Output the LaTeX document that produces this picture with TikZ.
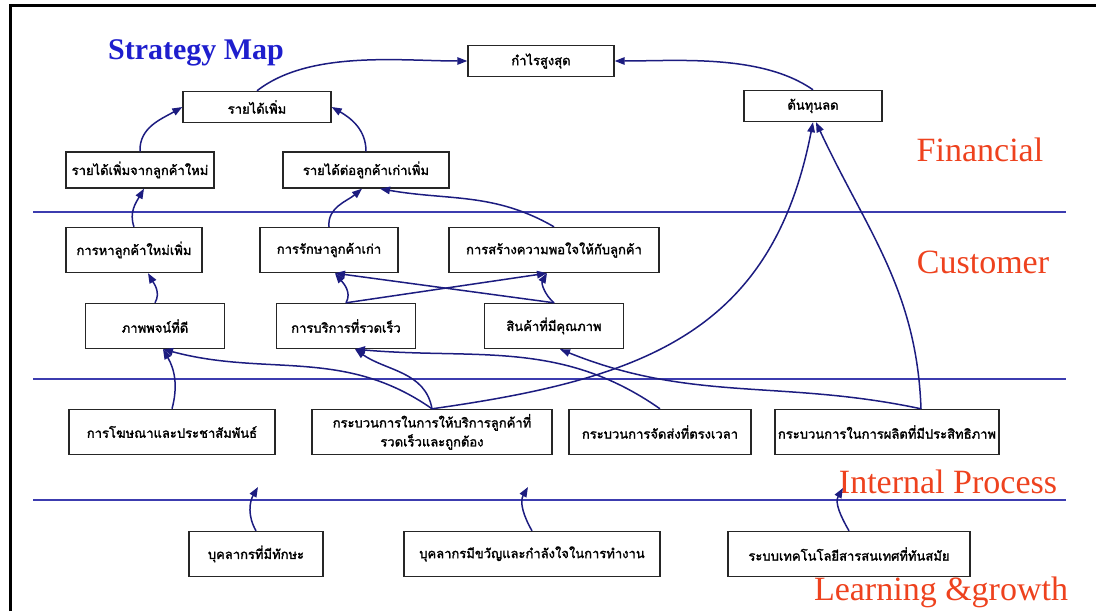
\documentclass[tikz,border=0pt]{standalone}
\usepackage{fontspec}
\setmainfont{Liberation Serif}
\newfontfamily\thaifont[Script=Thai,AutoFakeBold=1.8]{Loma}
\usetikzlibrary{topaths}
\usetikzlibrary{arrows.meta}
\definecolor{linknavy}{RGB}{28,28,128}
\definecolor{laneblue}{RGB}{60,60,175}
\definecolor{perspred}{RGB}{238,66,30}
\definecolor{titleblue}{RGB}{30,30,205}
\tikzstyle{kpi}=[rectangle,draw=black!85,fill=white,line width=1.4pt,inner sep=0pt,minimum height=45pt,align=center,font=\thaifont\bfseries\fontsize{13}{17}\selectfont]
\tikzstyle{fin}=[kpi,minimum height=31pt]
\tikzstyle{link}=[->,>={Triangle[length=10pt,width=7.5pt]},draw=linknavy,line width=1.5pt]
\tikzstyle{lane}=[draw=laneblue,line width=1.1pt]
\tikzstyle{persp}=[text=perspred,font=\fontsize{34}{38}\selectfont]
\tikzset{every picture/.style={x=1pt,y=1pt}}

\begin{document}
\begin{tikzpicture}
  \useasboundingbox (0,0) rectangle (1096,611);
  \draw[line width=3pt] (10,0) -- (10,605) -- (1096,605);
  \node[text=titleblue,font=\bfseries\fontsize{30}{32}\selectfont] at (196,558) (title) {Strategy Map};
  % financial
  \node[fin,minimum width=146pt] at (541,550) (profit) {กำไรสูงสุด};
  \node[fin,minimum width=148pt] at (257,504) (revenue) {รายได้เพิ่ม};
  \node[fin,minimum width=138pt] at (813,505) (cost) {ต้นทุนลด};
  \node[fin,minimum width=148pt,minimum height=36pt] at (140,441) (newrev) {รายได้เพิ่มจากลูกค้าใหม่};
  \node[fin,minimum width=166pt,minimum height=36pt] at (366,441) (oldrev) {รายได้ต่อลูกค้าเก่าเพิ่ม};
  \node[persp] at (980,461) (financial) {Financial};
  \draw[lane] (33,399) -- (1066,399);
  % customer
  \node[kpi,minimum width=136pt] at (134,361) (newcust) {การหาลูกค้าใหม่เพิ่ม};
  \node[kpi,minimum width=138pt] at (329,361) (retain) {การรักษาลูกค้าเก่า};
  \node[kpi,minimum width=210pt] at (554,361) (satisfy) {การสร้างความพอใจให้กับลูกค้า};
  \node[kpi,minimum width=139pt] at (155,285) (image) {ภาพพจน์ที่ดี};
  \node[kpi,minimum width=139pt] at (346,285) (service) {การบริการที่รวดเร็ว};
  \node[kpi,minimum width=139pt] at (554,285) (quality) {สินค้าที่มีคุณภาพ};
  \node[persp] at (983,349) (customer) {Customer};
  \draw[lane] (33,232) -- (1066,232);
  % internal process
  \node[kpi,minimum width=206pt] at (172,179) (advert) {การโฆษณาและประชาสัมพันธ์};
  \node[kpi,minimum width=240pt,font=\thaifont\bfseries\fontsize{13}{19}\selectfont] at (432,179) (svcproc) {กระบวนการในการให้บริการลูกค้าที่\\รวดเร็วและถูกต้อง};
  \node[kpi,minimum width=182pt] at (660,179) (delivery) {กระบวนการจัดส่งที่ตรงเวลา};
  \node[kpi,minimum width=224pt] at (887,179) (production) {กระบวนการในการผลิตที่มีประสิทธิภาพ};
  \node[persp] at (948,129) (internal) {Internal Process};
  \draw[lane] (33,111) -- (1066,111);
  % learning and growth
  \node[kpi,minimum width=134pt] at (256,57) (skilled) {บุคลากรที่มีทักษะ};
  \node[kpi,minimum width=256pt] at (532,57) (morale) {บุคลากรมีขวัญและกำลังใจในการทำงาน};
  \node[kpi,minimum width=242pt] at (849,57) (tech) {ระบบเทคโนโลยีสารสนเทศที่ทันสมัย};
  \node[persp] at (941,19) (learning) {Learning \&growth};
  \coordinate (skilltip) at (258,124);
  \coordinate (moraletip) at (528,124);
  \coordinate (techtip) at (843,123);
  % links
  \draw[link] (revenue.north) to[out=38,in=180,looseness=0.8] (profit.west);
  \draw[link] (cost.north) to[out=145,in=0,looseness=0.8] (profit.east);
  \draw[link] (newrev.north) to[out=92,in=-150] (revenue.west);
  \draw[link] (oldrev.north) to[out=90,in=-30] (revenue.east);
  \draw[link] (newcust.north) to[out=110,in=-120] ([xshift=4pt]newrev.south);
  \draw[link] (retain.north) to[out=95,in=-140] ([xshift=-4pt]oldrev.south);
  \draw[link] (satisfy.north) to[out=150,in=-10] ([xshift=14pt]oldrev.south);
  \draw[link] (image.north) to[out=60,in=-60] ([xshift=14pt]newcust.south);
  \draw[link] (service.north) to[out=60,in=-50] ([xshift=6pt]retain.south);
  \draw[link] (quality.north) -- ([xshift=6pt]retain.south);
  \draw[link] (service.north) -- ([xshift=-7pt]satisfy.south);
  \draw[link] (quality.north) to[out=140,in=-120] ([xshift=-7pt]satisfy.south);
  \draw[link] (advert.north) to[out=75,in=-60] ([xshift=8pt]image.south);
  \draw[link] (svcproc.north) to[out=145,in=-15] ([xshift=8pt]image.south);
  \draw[link] (svcproc.north) to[out=100,in=-35] ([xshift=9pt]service.south);
  \draw[link] (delivery.north) to[out=145,in=-5] ([xshift=9pt]service.south);
  \draw[link] (svcproc.north) to[out=8,in=-101,looseness=1.15] (cost.south);
  \draw[link] ([xshift=34pt]production.north) to[out=168,in=-22] ([xshift=6pt]quality.south);
  \draw[link] ([xshift=34pt]production.north) to[out=92,in=-65] ([xshift=3pt]cost.south);
  \draw[link] (skilled.north) to[out=120,in=-120] (skilltip);
  \draw[link] (morale.north) to[out=120,in=-120] (moraletip);
  \draw[link] (tech.north) to[out=120,in=-120] (techtip);
\end{tikzpicture}
\end{document}
